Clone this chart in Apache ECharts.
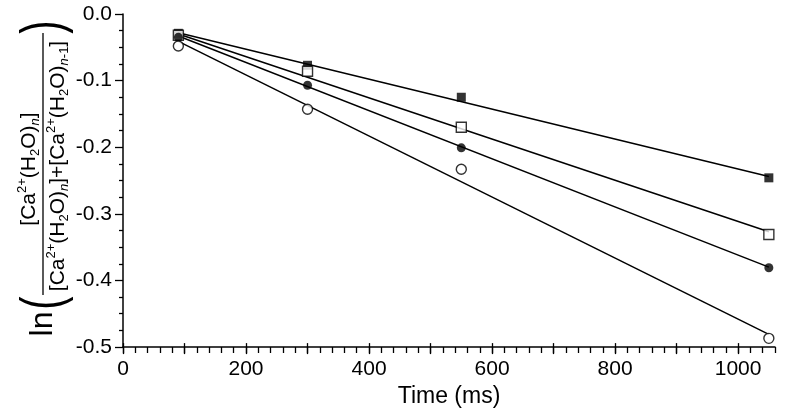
<!DOCTYPE html>
<html>
<head>
<meta charset="utf-8">
<script src="https://cdn.jsdelivr.net/npm/echarts@6/dist/echarts.min.js"></script>
<style>html,body{margin:0;padding:0;background:#fff;}#chart{width:800px;height:413px;}</style>
</head>
<body>
<div id="chart"></div>
<script>
// ---- data ----
const times = [90, 300, 550, 1050];
const filledSquare = [-0.029, -0.077, -0.125, -0.246];
const openSquare   = [-0.032, -0.086, -0.170, -0.331];
const filledCircle = [-0.035, -0.107, -0.201, -0.381];
const openCircle   = [-0.048, -0.143, -0.233, -0.487];
// fitted lines (end points)
const fitTimes = [90, 1050];
const fitFilledSquare = [-0.028, -0.244];
const fitOpenSquare   = [-0.030, -0.327];
const fitFilledCircle = [-0.033, -0.380];
const fitOpenCircle   = [-0.041, -0.481];
// axes
const xMajorTicks = [0, 100, 200, 300, 400, 500, 600, 700, 800, 900, 1000];
const xTickLabels = [0, 200, 400, 600, 800, 1000];
const yTickLabels = [0, -0.1, -0.2, -0.3, -0.4, -0.5];

const FONT = '"Liberation Sans", Arial, sans-serif';
const pair = (xs, ys) => xs.map((x, i) => [x, ys[i]]);

const chart = echarts.init(document.getElementById('chart'), null, {renderer: 'canvas'});

function fitSeries(ys) {
  return {type: 'line', xAxisIndex: 0, yAxisIndex: 0, data: pair(fitTimes, ys), symbol: 'none',
    lineStyle: {color: '#000', width: 1.5}, z: 2, silent: true, animation: false};
}
function pointSeries(ys, symbol, filled, size) {
  return {type: 'scatter', xAxisIndex: 0, yAxisIndex: 0, data: pair(times, ys), symbol: symbol, symbolSize: size,
    itemStyle: {color: filled ? '#000' : '#fff', borderColor: '#000', borderWidth: filled ? 0 : 1.4},
    z: 3, silent: true, animation: false};
}

const rich = {
  m: {fontSize: 21, fontFamily: FONT, color: '#000', lineHeight: 26},
  sup: {fontSize: 13, fontFamily: FONT, color: '#000', verticalAlign: 'top', lineHeight: 13},
  sub: {fontSize: 13, fontFamily: FONT, color: '#000', verticalAlign: 'bottom', lineHeight: 13},
  subi: {fontSize: 13, fontFamily: FONT, fontStyle: 'italic', color: '#000', verticalAlign: 'bottom', lineHeight: 13}
};
const unit = '{m|[Ca}{sup|2+}{m|(H}{sub|2}{m|O)}{subi|n}{m|]}';
const unitPrev = '{m|[Ca}{sup|2+}{m|(H}{sub|2}{m|O)}{subi|n}{sub|-1}{m|]}';

const gridRect = {left: 123, right: 25, top: 14, bottom: 66, containLabel: false};

const option = {
  backgroundColor: '#fff',
  animation: false,
  grid: [Object.assign({}, gridRect), Object.assign({}, gridRect)],
  xAxis: [{
    gridIndex: 0, type: 'value', min: 0, max: 1060, interval: 20, position: 'bottom',
    axisLine: {show: true, onZero: false, lineStyle: {color: '#000', width: 1.5}},
    axisTick: {show: true, inside: false, length: 6, lineStyle: {color: '#000', width: 1.3}},
    axisLabel: {show: false}, splitLine: {show: false}
  }, {
    gridIndex: 1, type: 'value', min: 0, max: 1060, position: 'bottom',
    name: 'Time (ms)', nameLocation: 'middle', nameGap: 41,
    nameTextStyle: {fontFamily: FONT, fontSize: 23, color: '#000'},
    axisLine: {show: false, onZero: false},
    axisTick: {show: true, inside: false, length: 11, customValues: xMajorTicks, lineStyle: {color: '#000', width: 1.3}},
    axisLabel: {show: true, margin: 16, customValues: xTickLabels, fontFamily: FONT, fontSize: 21, color: '#000',
      formatter: v => String(v)},
    splitLine: {show: false}
  }],
  yAxis: [{
    gridIndex: 0, type: 'value', min: -0.5, max: 0, interval: 0.1,
    axisLine: {show: true, onZero: false, lineStyle: {color: '#000', width: 1.5}},
    axisTick: {show: true, inside: false, length: 8, customValues: yTickLabels, lineStyle: {color: '#000', width: 1.3}},
    minorTick: {show: true, splitNumber: 4, length: 4, lineStyle: {color: '#000', width: 1.3}},
    axisLabel: {show: true, margin: 11, customValues: yTickLabels, fontFamily: FONT, fontSize: 21, color: '#000',
      formatter: v => v.toFixed(1)},
    splitLine: {show: false}
  }, {
    gridIndex: 1, type: 'value', min: -0.5, max: 0, show: false
  }],
  series: [
    fitSeries(fitFilledSquare), fitSeries(fitOpenSquare), fitSeries(fitFilledCircle), fitSeries(fitOpenCircle),
    pointSeries(filledSquare, 'rect', true, 9),
    pointSeries(openSquare, 'rect', false, 10),
    pointSeries(filledCircle, 'circle', true, 9),
    pointSeries(openCircle, 'circle', false, 10)
  ],
  graphic: [{
    type: 'group', x: 43, y: 164, rotation: Math.PI / 2,
    children: [
      {type: 'line', shape: {x1: -131, y1: 0, x2: 131, y2: 0}, style: {stroke: '#000', lineWidth: 1.3}},
      {type: 'text', x: -5, y: -1, style: {text: unit, rich: rich, align: 'center', verticalAlign: 'bottom'}},
      {type: 'text', x: -2, y: 2, style: {text: unit + '{m|+}' + unitPrev, rich: rich, align: 'center', verticalAlign: 'top'}},
      {type: 'text', x: -160, y: 0, style: {text: 'ln', fontFamily: FONT, fontSize: 32, fill: '#000', align: 'center', verticalAlign: 'middle'}},
      {type: 'text', x: -139, y: 2, scaleY: 1.45, style: {text: '(', fontFamily: FONT, fontSize: 40, fill: '#000', align: 'center', verticalAlign: 'middle'}},
      {type: 'text', x: 137, y: 2, scaleY: 1.45, style: {text: ')', fontFamily: FONT, fontSize: 40, fill: '#000', align: 'center', verticalAlign: 'middle'}}
    ]
  }]
};
chart.setOption(option);
</script>
</body>
</html>
